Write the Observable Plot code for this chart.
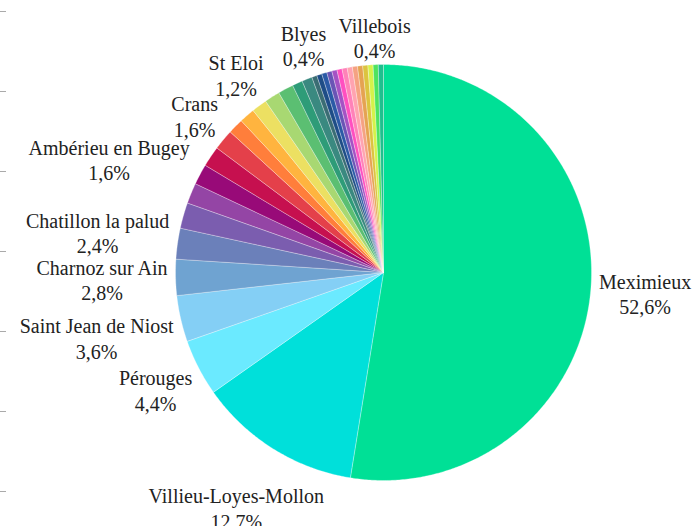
<!DOCTYPE html>
<html><head><meta charset="utf-8">
<script src="https://cdn.jsdelivr.net/npm/d3@7"></script>
<script src="https://cdn.jsdelivr.net/npm/@observablehq/plot@0.6"></script>
<style>body{margin:0;background:#fff}</style>
</head><body><div id="chart"></div>
<script>
// Slices, clockwise from 12 o'clock (names of unlabelled slices are not legible in the source)
const communes = [
  "Meximieux", "Villieu-Loyes-Mollon", "Pérouges", "Saint Jean de Niost", "Charnoz sur Ain",
  "Chatillon la palud", "autre 7", "Ambérieu en Bugey", "autre 9", "autre 10", "Crans",
  "autre 12", "autre 13", "St Eloi", "autre 15", "autre 16", "autre 17", "autre 18",
  "Blyes", "autre 20", "autre 21", "autre 22", "autre 23", "autre 24", "autre 25",
  "autre 26", "autre 27", "autre 28", "autre 29", "autre 30", "Villebois", "autre 32"
];
const parts = [
  52.6, 12.7, 4.4, 3.6, 2.8,
  2.4, 2.0, 1.6, 1.6, 1.6, 1.6,
  1.2, 1.2, 1.2, 1.2, 1.2, 0.8, 0.8,
  0.4, 0.4, 0.4, 0.4, 0.4, 0.4, 0.4,
  0.4, 0.4, 0.4, 0.4, 0.4, 0.4, 0.4
];
const colors = [
  "#00e096", "#00e0da", "#6beaff", "#84cff5", "#6fa3d1",
  "#6b80ba", "#7b5daf", "#9445a5", "#980a78", "#c6104f", "#e4404a",
  "#ff7e3b", "#ffb43f", "#ece062", "#a8d872", "#5bbf72", "#2e9c78", "#3a8980",
  "#3b6d74", "#1e4d87", "#2b5aa6", "#6a54b5", "#a552c4", "#ff4fc0", "#ff82b8",
  "#ffa3b0", "#f5a282", "#e5a352", "#dcc43f", "#d5f24a", "#4ee35f", "#1fc08e"
];
const labelled = [
  "Meximieux", "Villieu-Loyes-Mollon", "Pérouges", "Saint Jean de Niost", "Charnoz sur Ain",
  "Chatillon la palud", "Ambérieu en Bugey", "Crans", "St Eloi", "Blyes", "Villebois"
];

const W = 694, H = 526;
const R = 208, CX = 383, CY = 272, ML = 6;
const FONT = "Liberation Serif", FS = 20, LH = 1.28;

const pie = d3.pie().sort(null).value(d => d)(parts);
const poly = [];
pie.forEach((p, i) => {
  const name = communes[i];
  poly.push({name, x: 0, y: 0});
  const n = Math.max(2, Math.ceil((p.endAngle - p.startAngle) / (Math.PI / 360)));
  for (let k = 0; k <= n; k++) {
    const a = p.startAngle + (p.endAngle - p.startAngle) * k / n;
    poly.push({name, x: Math.sin(a), y: Math.cos(a)});
  }
  poly.push({name, x: 0, y: 0});
});

const ctx = document.createElement("canvas").getContext("2d");
ctx.font = `${FS}px "${FONT}"`;
const fmt = v => v.toFixed(1).replace(".", ",") + "%";
const labels = pie.filter((p, i) => labelled.includes(communes[i])).map(p => {
  const i = p.index;
  const a = (p.startAngle + p.endAngle) / 2;
  const pct = fmt(parts[i]);
  const w = Math.max(ctx.measureText(communes[i]).width, ctx.measureText(pct).width);
  const hh = FS * LH * 0.75;
  const d = 1 + (7 + w / 2 * Math.abs(Math.sin(a)) + hh * Math.abs(Math.cos(a))) / R;
  return {x: d * Math.sin(a), y: d * Math.cos(a), text: communes[i] + "\n" + pct};
});

const yMax = CY / R, yMin = -(H - CY) / R;
const yTicks = d3.range(11, H, 80).map(p => (CY - p) / R);

const chart = Plot.plot({
  width: W, height: H,
  marginLeft: ML, marginRight: 0, marginTop: 0, marginBottom: 0,
  style: {color: "#aaa", background: "#fff"},
  x: {domain: [-(CX - ML) / R, (W - CX) / R], axis: null},
  y: {domain: [yMin, yMax], ticks: yTicks, tickSize: 6, tickFormat: () => "", label: null},
  color: {type: "ordinal", domain: communes, range: colors},
  marks: [
    Plot.line(poly, {x: "x", y: "y", z: "name", fill: "name", stroke: "#fff", strokeWidth: 0.6, strokeOpacity: 0.5, curve: "linear"}),
    Plot.text(labels, {x: "x", y: "y", text: "text", fontFamily: FONT, fontSize: FS, lineHeight: LH, fill: "#222", textAnchor: "middle"})
  ]
});
document.getElementById("chart").appendChild(chart);
</script>
</body></html>
